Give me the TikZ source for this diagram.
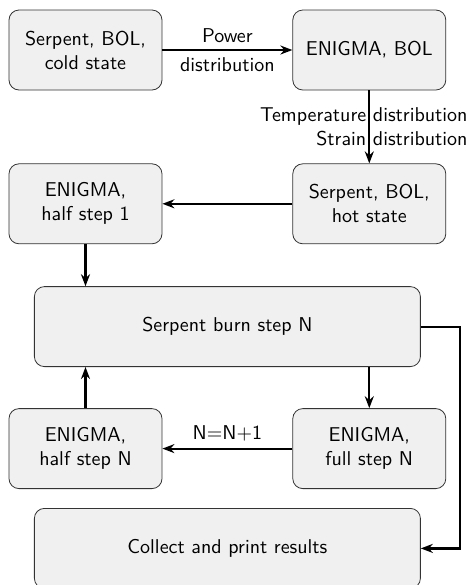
\documentclass[tikz,border=0pt]{standalone}
\usepackage{xcolor}
\usepackage{tikz}
\usetikzlibrary{positioning,arrows.meta,calc}

\begin{document}
\begin{tikzpicture}[node distance=65pt, auto, >={Stealth[length=6pt,width=4.5pt]}]
      \tikzset{block/.style={rectangle, draw=black!80, fill=black!6, rounded corners=5pt, minimum width=76.5pt, minimum height=40pt, align=center, font=\sffamily}}
      \tikzset{wideblock/.style={block, minimum width=193pt}}
      \useasboundingbox (-42.75pt,-267.5pt) rectangle (191.25pt,25pt);
      \node[block] (cold) {Serpent, BOL,\\cold state};
      \node[block, right=of cold] (enigmabol) {ENIGMA, BOL};
      \node[block, below=36.5pt of enigmabol] (hot) {Serpent, BOL,\\hot state};
      \node[block, left=of hot] (halfone) {ENIGMA,\\half step 1};
      \coordinate (mid) at ($(halfone.south)!0.5!(hot.south)$);
      \node[wideblock, below=21pt of mid] (burn) {Serpent burn step N};
      \node[block, below=82pt of hot] (fullN) {ENIGMA,\\full step N};
      \node[block, left=of fullN] (halfN) {ENIGMA,\\half step N};
      \node[wideblock, below=70.5pt of burn] (collect) {Collect and print results};
      \draw[->,line width=1.1pt] (cold) -- node[above, font=\sffamily] {Power} node[below, font=\sffamily] {distribution} (enigmabol);
      \draw[->,line width=1.1pt] (enigmabol) -- node[midway, anchor=center, xshift=-2.75pt, align=right, font=\sffamily, inner sep=0pt] {Temperature distribution\\Strain distribution} (hot);
      \draw[->,line width=1.1pt] (hot) -- (halfone);
      \draw[->,line width=1.1pt] (halfone) -- (halfone |- burn.north);
      \draw[->,line width=1.1pt] (burn.south -| fullN) -- (fullN);
      \draw[->,line width=1.1pt] (fullN) -- node[above, font=\sffamily] {N=N+1} (halfN);
      \draw[->,line width=1.1pt] (halfN) -- (halfN |- burn.south);
      \draw[->,line width=1.1pt] (burn.east) -- ++(19.5pt,0) |- (collect.east);
    \end{tikzpicture}
\end{document}
